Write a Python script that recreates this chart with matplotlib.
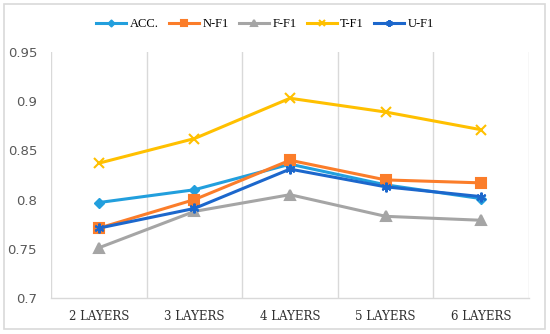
'''
Line chart of metrics by number of layers
'''
import matplotlib.pyplot as plt
from matplotlib.patches import Rectangle

categories = ['2 LAYERS', '3 LAYERS', '4 LAYERS', '5 LAYERS', '6 LAYERS']
acc = [0.797, 0.810, 0.836, 0.815, 0.801]
n_f1 = [0.771, 0.800, 0.840, 0.820, 0.817]
f_f1 = [0.751, 0.788, 0.805, 0.783, 0.779]
t_f1 = [0.837, 0.862, 0.903, 0.889, 0.871]
u_f1 = [0.771, 0.791, 0.831, 0.813, 0.803]
y_ticks = [0.7, 0.75, 0.8, 0.85, 0.9, 0.95]

series = [
    ('ACC.', acc, '#229fdd', 'D', 5),
    ('N-F1', n_f1, '#fb7d2a', 's', 7),
    ('F-F1', f_f1, '#a5a5a5', '^', 7),
    ('T-F1', t_f1, '#ffc000', 'x', 7),
    ('U-F1', u_f1, '#1c67cc', (6, 2, 0), 7),
]

fig = plt.figure(figsize=(5.5, 3.34), dpi=100)
fig.patches.append(Rectangle((4 / 550, 1 - 329 / 334), 541 / 550, 325 / 334,
                             transform=fig.transFigure, fill=False,
                             edgecolor='#d9d9d9', linewidth=1.2))
ax = fig.add_axes([51 / 550, 1 - 298 / 334, 478 / 550, 246 / 334])

xs = [i + 0.5 for i in range(len(categories))]
for label, values, color, marker, size in series:
    ax.plot(xs, values, color=color, linewidth=2.2, marker=marker,
            markersize=size, markeredgewidth=1.5 if marker != 'D' else 1,
            label=label)

ax.set_xlim(0, len(categories))
ax.set_ylim(0.7, 0.95)
ax.set_xticks(xs)
ax.set_xticklabels(categories, family='DejaVu Serif', fontsize=8.5,
                   color='#303030')
ax.set_xticks(range(len(categories) + 1), minor=True)
ax.grid(True, which='minor', axis='x', color='#d9d9d9', linewidth=1)
ax.set_yticks(y_ticks)
ax.set_yticklabels([('%g' % v) for v in y_ticks], fontsize=9.5, color='#595959')
ax.tick_params(axis='both', which='both', length=0)
ax.tick_params(axis='x', pad=9)
ax.tick_params(axis='y', pad=10)
for side in ['top', 'left', 'right']:
    ax.spines[side].set_visible(False)
ax.spines['bottom'].set_color('#d9d9d9')
ax.spines['bottom'].set_linewidth(1)

fig.legend(loc='center', bbox_to_anchor=(0.482, 0.928), ncol=5, frameon=False,
           handlelength=2.4, columnspacing=0.85, handletextpad=0.25,
           markerscale=0.7,
           prop={'family': 'Liberation Serif', 'size': 9})

fig.savefig('out.png', dpi=100)
